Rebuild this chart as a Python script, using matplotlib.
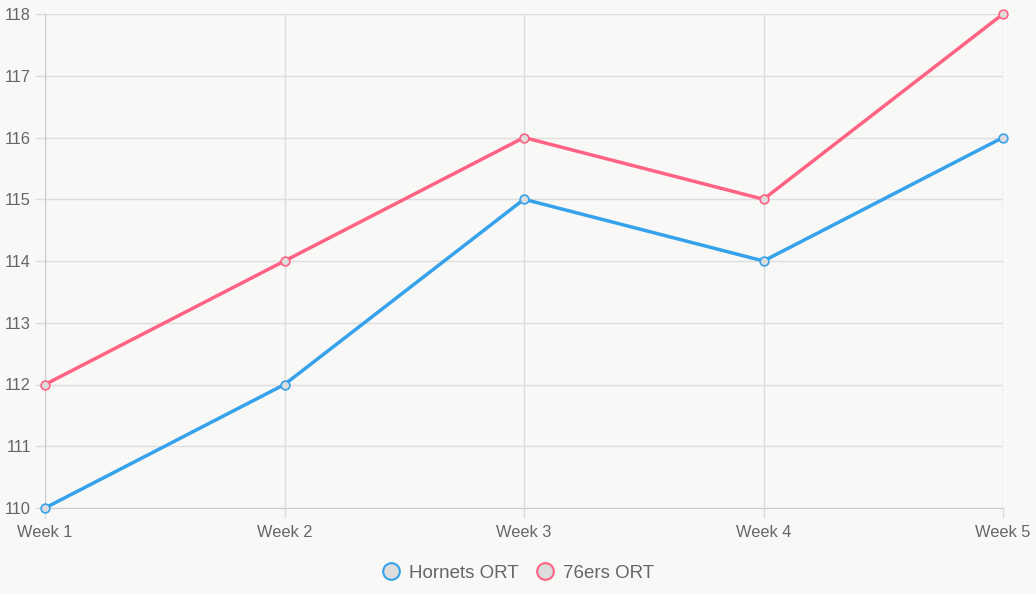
import matplotlib.pyplot as plt

weeks = ["Week 1", "Week 2", "Week 3", "Week 4", "Week 5"]
hornets_ort = [110, 112, 115, 114, 116]
sixers_ort = [112, 114, 116, 115, 118]
series_names = ["Hornets ORT", "76ers ORT"]

bg = "#f8f8f6"
colors = ["#36a2eb", "#ff6384"]
plt.rcParams['font.family'] = ['Liberation Sans', 'DejaVu Sans']

fig = plt.figure(figsize=(10.36, 5.94), dpi=100, facecolor=bg)
ax = fig.add_axes([45 / 1036, 1 - 508 / 594, (1003 - 45) / 1036, (508 - 14) / 594])
ax.set_facecolor(bg)

x = list(range(len(weeks)))
for vals, name, c in zip([hornets_ort, sixers_ort], series_names, colors):
    ax.plot(x, vals, color=c, lw=2.5, marker="o", ms=6.3, mfc="#dcdcdc",
            mec=c, mew=1.2, label=name, zorder=3, clip_on=False)

ax.set_xlim(0, len(weeks) - 1)
ax.set_ylim(110, 118)
ax.set_xticks(x)
ax.set_xticklabels(weeks)
ax.set_yticks(range(110, 119))
ax.grid(True, color="#dddddd", lw=1)
ax.set_axisbelow(True)
for s in ["top", "right"]:
    ax.spines[s].set_visible(False)
for s in ["left", "bottom"]:
    ax.spines[s].set_color("#cccccc")
ax.tick_params(colors="#666666", labelsize=11.8, length=7, width=1)
ax.tick_params(axis="x", color="#dddddd", pad=5)
ax.tick_params(axis="y", color="#dddddd", pad=3)

leg = fig.legend(loc="lower center", bbox_to_anchor=(0.5, -0.008), ncol=2, frameon=False,
                 fontsize=13.5, handlelength=1.0, handletextpad=0.45, columnspacing=0.9,
                 labelcolor="#666666")
for h, c in zip(leg.legend_handles, colors):
    h.set_linestyle("none")
    h.set_markersize(12)
    h.set_markeredgewidth(1.5)

fig.savefig("out.png", dpi=100, facecolor=bg)
